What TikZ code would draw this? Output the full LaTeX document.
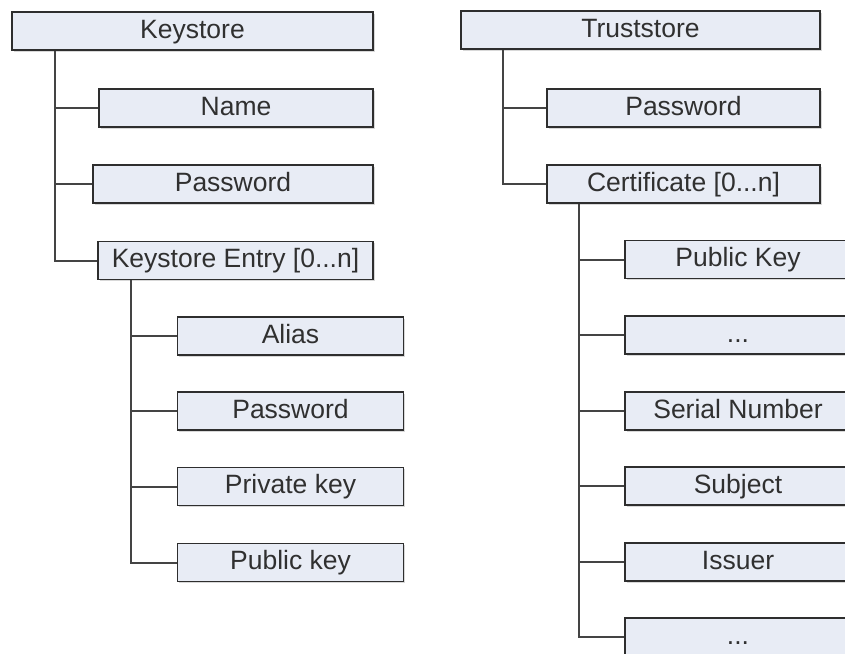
\documentclass[tikz,border=0pt]{standalone}
\usepackage{fontspec}
\setmainfont{Liberation Sans}
\usetikzlibrary{shadows}
\definecolor{boxfill}{HTML}{E8ECF5}
\definecolor{boxline}{HTML}{2E2E2E}
\definecolor{conn}{HTML}{444444}
\definecolor{txt}{HTML}{303030}
\begin{document}
\begin{tikzpicture}[x=1pt,y=-1pt,
  box/.style={draw=boxline, line width=1.8pt, fill=boxfill, rectangle,
    minimum height=38pt, inner sep=0pt, text=txt,
    font=\fontsize{26.5}{29}\selectfont, text height=19pt, text depth=5pt,
    drop shadow={shadow xshift=1.5pt, shadow yshift=-1.5pt, fill=black!25, opacity=0.6}},
  link/.style={draw=conn, line width=2pt}]
\useasboundingbox (0,0) rectangle (845,653);
\clip (0,0) rectangle (845,653);
\fill[white] (0,0) rectangle (845,653);

% Left tree
\node[box, minimum width=361pt] (ks) at (192.5,31) {Keystore};
\node[box, minimum width=274pt] (name) at (236,108) {Name};
\node[box, minimum width=280pt] (kpw) at (233,184) {Password};
\node[box, minimum width=275pt] (entry) at (235.5,260.5) {Keystore Entry [0...n]};
\node[box, minimum width=226pt] (alias) at (290.5,336) {Alias};
\node[box, minimum width=226pt] (epw) at (290.5,411) {Password};
\node[box, minimum width=226pt] (priv) at (290.5,486.5) {Private key};
\node[box, minimum width=226pt] (pub) at (290.5,562.5) {Public key};

\coordinate (kv) at (55,0);
\coordinate (ev) at (131,0);
\draw[link] (ks.south -| kv) |- (name.west);
\draw[link] (ks.south -| kv) |- (kpw.west);
\draw[link] (ks.south -| kv) |- (entry.west);
\draw[link] (entry.south -| ev) |- (alias.west);
\draw[link] (entry.south -| ev) |- (epw.west);
\draw[link] (entry.south -| ev) |- (priv.west);
\draw[link] (entry.south -| ev) |- (pub.west);

% Right tree
\node[box, minimum width=359pt] (ts) at (640.5,30) {Truststore};
\node[box, minimum width=273pt] (tpw) at (683.5,108) {Password};
\node[box, minimum width=273pt] (cert) at (683.5,184) {Certificate [0...n]};
\node[box, minimum width=226pt] (pk) at (738,259.5) {Public Key};
\node[box, minimum width=226pt] (d1) at (738,335) {...};
\node[box, minimum width=226pt] (sn) at (738,411) {Serial Number};
\node[box, minimum width=226pt] (subj) at (738,486) {Subject};
\node[box, minimum width=226pt] (iss) at (738,562) {Issuer};
\node[box, minimum width=226pt] (d2) at (738,637) {...};

\coordinate (tv) at (503,0);
\coordinate (cv) at (579,0);
\draw[link] (ts.south -| tv) |- (tpw.west);
\draw[link] (ts.south -| tv) |- (cert.west);
\draw[link] (cert.south -| cv) |- (pk.west);
\draw[link] (cert.south -| cv) |- (d1.west);
\draw[link] (cert.south -| cv) |- (sn.west);
\draw[link] (cert.south -| cv) |- (subj.west);
\draw[link] (cert.south -| cv) |- (iss.west);
\draw[link] (cert.south -| cv) |- (d2.west);
\end{tikzpicture}
\end{document}
